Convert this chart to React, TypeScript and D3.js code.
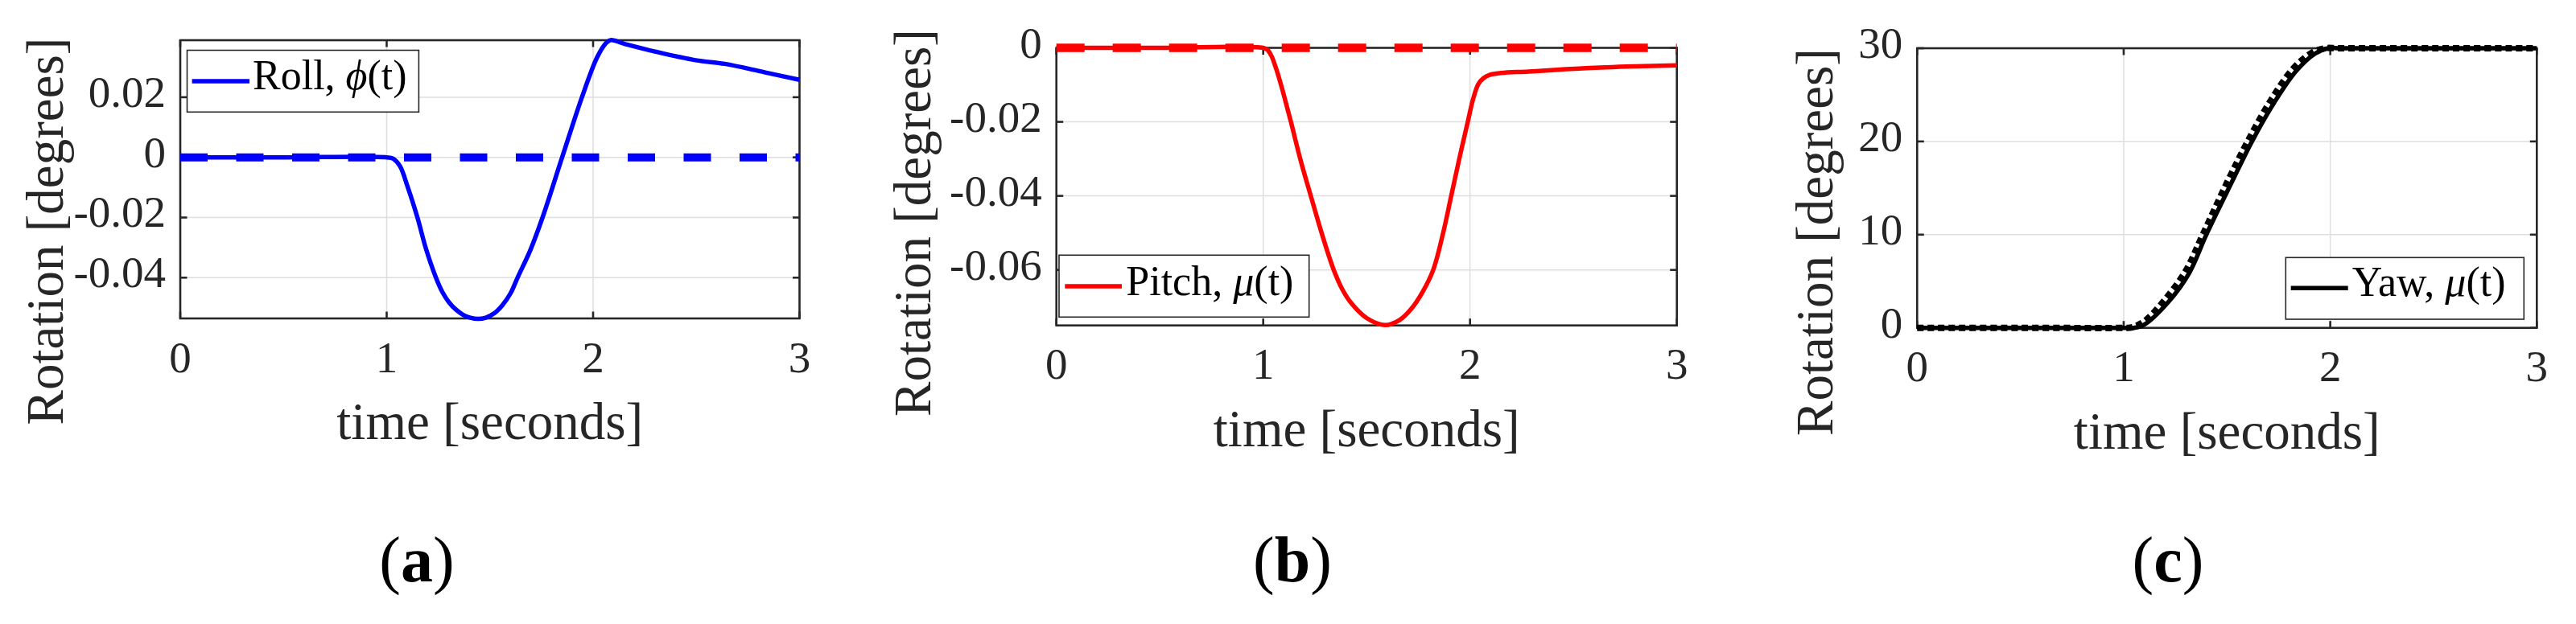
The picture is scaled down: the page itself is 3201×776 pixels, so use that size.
import React from "react";
import * as d3 from "d3";

// ---------- data ----------
const timeTicks = [0, 1, 2, 3];

const rollTicks = [-0.04, -0.02, 0, 0.02];
const pitchTicks = [-0.06, -0.04, -0.02, 0];
const yawTicks = [0, 10, 20, 30];

const rollTime = [0, 0.5, 1.0, 1.03, 1.065, 1.1, 1.149, 1.19, 1.236, 1.27, 1.302, 1.335, 1.369, 1.405, 1.443, 1.48, 1.52, 1.56, 1.6, 1.634, 1.695, 1.755, 1.85, 1.946, 2.019, 2.06, 2.085, 2.15, 2.3, 2.497, 2.637, 2.83, 3.0];
const rollValue = [0, 0, 0, -0.0004, -0.003, -0.0095, -0.02, -0.0303, -0.0395, -0.0448, -0.0482, -0.0506, -0.0523, -0.0533, -0.0537, -0.0533, -0.0519, -0.0492, -0.0452, -0.04, -0.031, -0.02, 0, 0.02, 0.0332, 0.0378, 0.039, 0.0378, 0.0352, 0.0323, 0.0311, 0.0283, 0.0258];
const rollRefTime = [0, 3];
const rollRefValue = [0, 0];

const pitchTime = [0, 0.5, 1.0, 1.02, 1.04, 1.06, 1.08, 1.1, 1.134, 1.18, 1.23, 1.285, 1.341, 1.385, 1.426, 1.5, 1.589, 1.66, 1.716, 1.77, 1.822, 1.87, 1.909, 1.95, 1.989, 2.015, 2.04, 2.065, 2.095, 2.15, 2.283, 2.56, 2.8, 3.0];
const pitchValue = [0, 0, 0, -0.0005, -0.0022, -0.0052, -0.0088, -0.0128, -0.02, -0.0302, -0.04, -0.0505, -0.06, -0.0655, -0.069, -0.073, -0.0749, -0.0735, -0.0705, -0.066, -0.06, -0.05, -0.04, -0.0295, -0.02, -0.0138, -0.0098, -0.0082, -0.0073, -0.0068, -0.0064, -0.0055, -0.005, -0.0047];
const pitchRefTime = [0, 3];
const pitchRefValue = [0, 0];

const yawTime = [0, 0.5, 1.0, 1.05, 1.1, 1.212, 1.316, 1.4, 1.523, 1.621, 1.731, 1.835, 1.926, 1.99, 2.05, 2.5, 3.0];
const yawValue = [0, 0, 0, 0, 0.35, 2.67, 5.84, 10, 15.62, 20, 24.25, 27.56, 29.42, 30, 30, 30, 30];
const yawRefTime = [0, 0.5, 1.0, 1.04, 1.1, 1.195, 1.3, 1.385, 1.505, 1.605, 1.715, 1.82, 1.91, 1.975, 2.04, 2.5, 3.0];
const yawRefValue = [0, 0, 0, 0.05, 0.7, 2.9, 6.1, 10.1, 15.8, 20.2, 24.5, 27.8, 29.5, 30, 30, 30, 30];

const panelLabels = ["a", "b", "c"];
const legendNames = ["Roll, ", "Pitch, ", "Yaw, "];
const legendSymbols = ["\u03D5", "\u03BC", "\u03BC"];

// ---------- layout ----------
const W = 3201;
const H = 776;
const FONT = "'Liberation Serif', 'Times New Roman', serif";
const AX = "#262626";

type Panel = {
  left: number; right: number; top: number; bottom: number;
  yDomain: [number, number]; yTicks: number[];
  t: number[]; v: number[]; rt: number[]; rv: number[];
  color: string; refDash: string; refWidth: number;
  yLabelX: number; yLabelY: number;
  legend: { x0: number; x1: number; y0: number; y1: number; lx0: number; lx1: number; ly: number; tx: number; ty: number };
  labelX: number;
};

const panels: Panel[] = [
  {
    left: 224, right: 993.5, top: 50, bottom: 396,
    yDomain: [-0.05356, 0.03896], yTicks: rollTicks,
    t: rollTime, v: rollValue, rt: rollRefTime, rv: rollRefValue,
    color: "#0000ff", refDash: "34 35.5", refWidth: 10,
    yLabelX: 78, yLabelY: 287.5,
    legend: { x0: 232.5, x1: 520.4, y0: 62.5, y1: 139.3, lx0: 238.6, lx1: 310, ly: 101, tx: 314, ty: 110.7 },
    labelX: 518,
  },
  {
    left: 1312.7, right: 2083.7, top: 59.5, bottom: 404.7,
    yDomain: [-0.075, 0], yTicks: pitchTicks,
    t: pitchTime, v: pitchValue, rt: pitchRefTime, rv: pitchRefValue,
    color: "#ff0000", refDash: "35 35", refWidth: 10.5,
    yLabelX: 1156, yLabelY: 277,
    legend: { x0: 1316, x1: 1626.7, y0: 317.3, y1: 394.3, lx0: 1323.3, lx1: 1394, ly: 356, tx: 1399.3, ty: 366.7 },
    labelX: 1606,
  },
  {
    left: 2382.3, right: 3152.3, top: 60, bottom: 407.7,
    yDomain: [0, 30], yTicks: yawTicks,
    t: yawTime, v: yawValue, rt: yawRefTime, rv: yawRefValue,
    color: "#000000", refDash: "8 5", refWidth: 8,
    yLabelX: 2277, yLabelY: 301,
    legend: { x0: 2840.3, x1: 3136.3, y0: 320.3, y1: 397, lx0: 2846.7, lx1: 2917.7, ly: 358.3, tx: 2922.7, ty: 368.3 },
    labelX: 2694,
  },
];

function fmt(d: number) {
  return d === 0 ? "0" : String(d);
}

function PanelView({ p, i }: { p: Panel; i: number }) {
  const x = d3.scaleLinear().domain([0, 3]).range([p.left, p.right]);
  const y = d3.scaleLinear().domain(p.yDomain).range([p.bottom, p.top]);
  const line = d3
    .line<[number, number]>()
    .x((d) => x(d[0]))
    .y((d) => y(d[1]))
    .curve(d3.curveCatmullRom.alpha(0.5));
  const main = line(p.t.map((t, k) => [t, p.v[k]] as [number, number])) || "";
  const ref = line(p.rt.map((t, k) => [t, p.rv[k]] as [number, number])) || "";
  const tickLen = 8.5;
  const L = p.legend;
  return (
    <g>
      {/* grid */}
      {timeTicks.map((t) => (
        <line key={"gx" + t} x1={x(t)} x2={x(t)} y1={p.top} y2={p.bottom} stroke="#dedede" strokeWidth={1.5} />
      ))}
      {p.yTicks.map((v) => (
        <line key={"gy" + v} x1={p.left} x2={p.right} y1={y(v)} y2={y(v)} stroke="#dedede" strokeWidth={1.5} />
      ))}
      {/* box */}
      <rect x={p.left} y={p.top} width={p.right - p.left} height={p.bottom - p.top} fill="none" stroke={AX} strokeWidth={2.6} />
      {/* ticks on all sides */}
      {timeTicks.map((t) => (
        <g key={"tx" + t}>
          <line x1={x(t)} x2={x(t)} y1={p.bottom} y2={p.bottom - tickLen} stroke={AX} strokeWidth={2.6} />
          <line x1={x(t)} x2={x(t)} y1={p.top} y2={p.top + tickLen} stroke={AX} strokeWidth={2.6} />
          <text x={x(t)} y={p.bottom + 66.5} textAnchor="middle" fontFamily={FONT} fontSize={55} fill={AX}>
            {fmt(t)}
          </text>
        </g>
      ))}
      {p.yTicks.map((v) => (
        <g key={"ty" + v}>
          <line x1={p.left} x2={p.left + tickLen} y1={y(v)} y2={y(v)} stroke={AX} strokeWidth={2.6} />
          <line x1={p.right} x2={p.right - tickLen} y1={y(v)} y2={y(v)} stroke={AX} strokeWidth={2.6} />
          <text x={p.left - 18} y={y(v) + 12} textAnchor="end" fontFamily={FONT} fontSize={55} fill={AX}>
            {fmt(v)}
          </text>
        </g>
      ))}
      {/* data */}
      <path d={main} fill="none" stroke={p.color} strokeWidth={5.5} strokeLinejoin="round" />
      <path d={ref} fill="none" stroke={p.color} strokeWidth={p.refWidth} strokeDasharray={p.refDash} />
      {/* axis labels */}
      <text x={(p.left + p.right) / 2} y={p.bottom + 150} textAnchor="middle" fontFamily={FONT} fontSize={65} fill={AX}>
        time [seconds]
      </text>
      <text
        transform={`translate(${p.yLabelX},${p.yLabelY}) rotate(-90)`}
        textAnchor="middle"
        fontFamily={FONT}
        fontSize={65}
        fill={AX}
      >
        Rotation [degrees]
      </text>
      {/* legend */}
      <rect x={L.x0} y={L.y0} width={L.x1 - L.x0} height={L.y1 - L.y0} fill="#ffffff" stroke={AX} strokeWidth={1.6} />
      <line x1={L.lx0} x2={L.lx1} y1={L.ly} y2={L.ly} stroke={p.color} strokeWidth={5.5} />
      <text x={L.tx} y={L.ty} fontFamily={FONT} fontSize={52} fill="#000">
        {legendNames[i]}
        <tspan fontStyle="italic">{legendSymbols[i]}</tspan>
        (t)
      </text>
      {/* panel label */}
      <text x={p.labelX} y={723} textAnchor="middle" fontFamily={FONT} fontSize={80} fill="#000">
        (<tspan fontWeight="bold">{panelLabels[i]}</tspan>)
      </text>
    </g>
  );
}

export default function App() {
  return (
    <svg
      width={W}
      height={H}
      viewBox={`0 0 ${W} ${H}`}
      style={{ position: "absolute", left: 0, top: 0, background: "#fff" }}
    >
      <rect x={0} y={0} width={W} height={H} fill="#fff" />
      {panels.map((p, i) => (
        <PanelView key={i} p={p} i={i} />
      ))}
    </svg>
  );
}
